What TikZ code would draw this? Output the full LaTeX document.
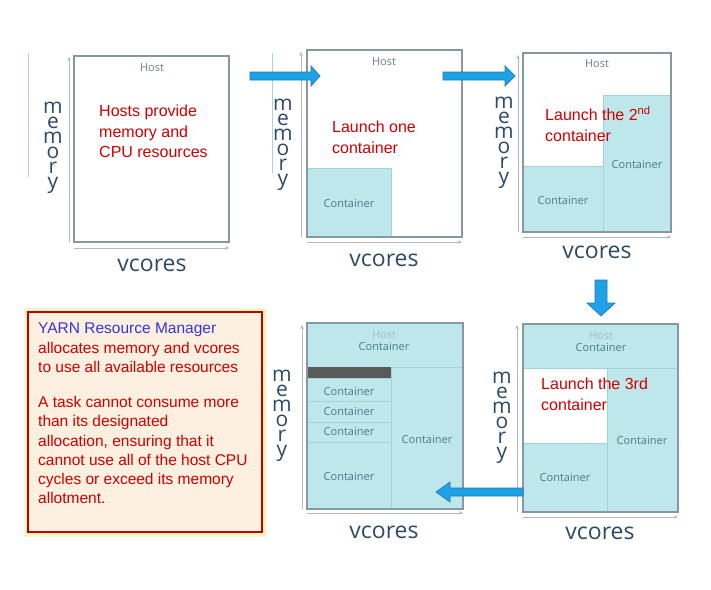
\documentclass[tikz,border=0pt]{standalone}
\usepackage{fontspec}
\setmainfont{Liberation Sans}
\newfontfamily\labelfont{Open Sans}
\usetikzlibrary{arrows.meta}

\definecolor{ctfill}{HTML}{BDE7EA}
\definecolor{ctline}{HTML}{A2D2D7}
\definecolor{hostline}{HTML}{8698A4}
\definecolor{axisgray}{HTML}{B5B9BC}
\definecolor{axistext}{HTML}{2E4A66}
\definecolor{cttext}{HTML}{4B7A8C}
\definecolor{hosttext}{HTML}{6E7E8A}
\definecolor{fadedhost}{HTML}{A5BCC4}
\definecolor{notered}{HTML}{D00000}
\definecolor{noteblue}{HTML}{3535D8}
\definecolor{arrowfill}{HTML}{1CA3E6}
\definecolor{arrowline}{HTML}{2A74B8}
\definecolor{boxred}{HTML}{C00000}
\definecolor{boxfill}{HTML}{FDF0E0}
\definecolor{glow}{HTML}{E9F4B4}
\definecolor{edgeblue}{HTML}{A9D1EE}
\definecolor{barfill}{HTML}{5A5A5A}

\tikzset{
  hostbox/.style={draw=hostline, line width=1.1pt},
  ctbox/.style={fill=ctfill, draw=ctline, line width=0.6pt},
  axisline/.style={draw=axisgray, line width=0.9pt, -{Stealth[length=4pt,width=3.5pt]}},
  memlabel/.style={font=\labelfont\fontsize{21}{15}\selectfont, text=axistext, align=center, inner sep=0pt},
  vclabel/.style={font=\labelfont\fontsize{23}{27}\selectfont, text=axistext, inner sep=0pt},
  hostlabel/.style={font=\labelfont\fontsize{11}{13}\selectfont, text=hosttext, inner sep=0pt},
  ctlabel/.style={font=\labelfont\fontsize{11}{13}\selectfont, text=cttext, inner sep=0pt},
  notetext/.style={font=\fontsize{16}{20.5}\selectfont, text=notered, align=left, anchor=north west, inner sep=0pt},
  blockarrow/.style={fill=arrowfill, draw=arrowline, line width=0.7pt, line join=miter},
}

\begin{document}
\begin{tikzpicture}[x=1pt, y=-1pt]
\useasboundingbox (0,0) rectangle (711,589);
\fill[white] (0,0) rectangle (711,589);

% thin slide edges on the left of the first two panels
\draw[edgeblue, line width=0.8pt] (28,53) -- (28,177);
\draw[edgeblue, line width=0.8pt] (272,53) -- (272,173);

% ---------- panel 1: empty host ----------
\draw[axisline] (69,242) -- (69,57);
\draw[axisline] (74,248) -- (229,248);
\draw[hostbox] (74,56) rectangle (229,242);
\node[hostlabel] (h1) at (152,68) {Host};
\node[notetext] (t1) at (99,105) {Hosts provide\\memory and\\CPU resources};
\node[memlabel] (m1) at (53,148) {m\\e\\m\\o\\r\\y};
\node[vclabel] (v1) at (152,265) {vcores};

% ---------- panel 2: one container ----------
\draw[axisline] (301,237) -- (301,52);
\draw[axisline] (307,242) -- (462,242);
\draw[ctbox] (307,168) rectangle (391,237);
\draw[hostbox] (307,50) rectangle (462,237);
\node[hostlabel] (h2) at (384,62) {Host};
\node[ctlabel] (c21) at (349,204) {Container};
\node[notetext] (t2) at (332,121) {Launch one\\container};
\node[memlabel] (m2) at (283,145) {m\\e\\m\\o\\r\\y};
\node[vclabel] (v2) at (384,260) {vcores};

% ---------- panel 3: two containers ----------
\draw[axisline] (518,232) -- (518,55);
\draw[axisline] (523,237) -- (671,237);
\draw[ctbox] (523,166) rectangle (603,232);
\draw[ctbox] (603,95) rectangle (671,232);
\draw[hostbox] (523,53) rectangle (671,232);
\node[hostlabel] (h3) at (597,64) {Host};
\node[ctlabel] (c31) at (563,201) {Container};
\node[ctlabel] (c32) at (637,165) {Container};
\node[notetext] (t3) at (545,106) {Launch the 2\textsuperscript{nd}\\container};
\node[memlabel] (m3) at (504,143) {m\\e\\m\\o\\r\\y};
\node[vclabel] (v3) at (597,252) {vcores};

% ---------- panel 6: three containers ----------
\draw[axisline] (517,512) -- (517,325);
\draw[axisline] (523,517) -- (678,517);
\draw[ctbox] (523,324) rectangle (678,368);
\draw[ctbox] (523,443) rectangle (607,512);
\draw[ctbox] (607,368) rectangle (678,512);
\draw[hostbox] (523,324) rectangle (678,512);
\node[hostlabel, text=fadedhost] (h6) at (601,336) {Host};
\node[ctlabel] (c61) at (601,348) {Container};
\node[ctlabel] (c62) at (565,478) {Container};
\node[ctlabel] (c63) at (642,441) {Container};
\node[notetext] (t6) at (541,378) {Launch the 3rd\\container};
\node[memlabel] (m6) at (502,418) {m\\e\\m\\o\\r\\y};
\node[vclabel] (v6) at (600,533) {vcores};

% ---------- panel 5: host fully allocated ----------
\draw[axisline] (302,509) -- (302,325);
\draw[axisline] (307,513) -- (463,513);
\draw[ctbox] (307,323) rectangle (463,367);
\fill[barfill] (307,367) rectangle (391,378);
\draw[ctbox] (307,378) rectangle (391,401);
\draw[ctbox] (307,401) rectangle (391,422);
\draw[ctbox] (307,422) rectangle (391,442);
\draw[ctbox] (307,442) rectangle (391,509);
\draw[ctbox] (391,367) rectangle (463,509);
\draw[hostbox] (307,323) rectangle (463,509);
\node[hostlabel, text=fadedhost] (h5) at (384,335) {Host};
\node[ctlabel] (c51) at (384,347) {Container};
\node[ctlabel] (c52) at (349,392) {Container};
\node[ctlabel] (c53) at (349,412) {Container};
\node[ctlabel] (c54) at (349,432) {Container};
\node[ctlabel] (c55) at (349,477) {Container};
\node[ctlabel] (c56) at (427,440) {Container};
\node[memlabel] (m5) at (282,416) {m\\e\\m\\o\\r\\y};
\node[vclabel] (v5) at (384,532) {vcores};

% ---------- block arrows between the stages ----------
\filldraw[blockarrow] (250,72) -- (311,72) -- (311,66) -- (320,76) -- (311,86) -- (311,80) -- (250,80) -- cycle;
\filldraw[blockarrow] (443,72) -- (505,72) -- (505,66) -- (515,76) -- (505,86) -- (505,80) -- (443,80) -- cycle;
\filldraw[blockarrow] (595,280) -- (607,280) -- (607,303) -- (615,303) -- (601,316) -- (587,303) -- (595,303) -- cycle;
\filldraw[blockarrow] (523,488) -- (450,488) -- (450,482) -- (436,492) -- (450,502) -- (450,496) -- (523,496) -- cycle;

% ---------- explanatory note ----------
\draw[glow, line width=9pt, opacity=0.6] (28,312) rectangle (262,532);
\draw[glow, line width=5pt] (28,312) rectangle (262,532);
\filldraw[fill=boxfill, draw=boxred, line width=2.2pt] (28,312) rectangle (262,532);
\node[notetext, font=\fontsize{15.5}{19.3}\selectfont] (note) at (38,323)
  {\textcolor{noteblue}{YARN Resource Manager}\\
   allocates memory and vcores\\
   to use all available resources\\[15.7pt]
   A task cannot consume more\\
   than its designated\\
   allocation, ensuring that it\\
   cannot use all of the host CPU\\
   cycles or exceed its memory\\
   allotment.};
\end{tikzpicture}
\end{document}
